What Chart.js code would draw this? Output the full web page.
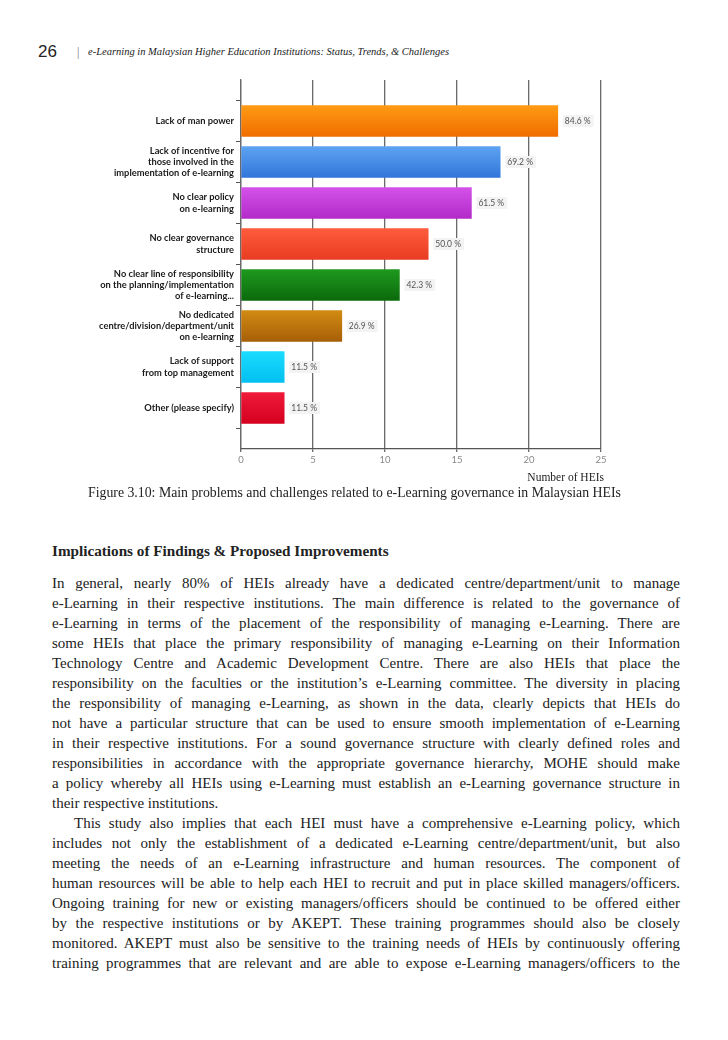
<!DOCTYPE html>
<html>
<head>
<meta charset="utf-8">
<script src="https://cdn.jsdelivr.net/npm/chart.js@4"></script>
<style>
  body { margin: 0; background: #fff; }
  #page { position: relative; width: 728px; height: 1040px; overflow: hidden; background: #fff; }
  .abs { position: absolute; white-space: nowrap; color: #222; }
  #chart { position: absolute; left: 0; top: 70px; }
  .serif { font-family: "Liberation Serif", "DejaVu Serif", serif; }
  #body { position: absolute; left: 52px; top: 573px; width: 628px; font-family: "Liberation Serif", serif; font-size: 15px; color: #222; }
  #body div { height: 20px; line-height: 20px; white-space: nowrap; text-align: justify; text-align-last: justify; }
  #body div.last { text-align-last: left; }
  #body div.indent { text-indent: 22px; }
</style>
</head>
<body>
<div id="page">
  <div class="abs" style="left:38px; top:42px; line-height:20px; font-family:'Liberation Sans',sans-serif; font-size:17px;">26</div>
  <div class="abs serif" style="left:77px; top:43px; line-height:18px; font-size:12px; color:#777;">|</div>
  <div class="abs serif" style="left:88px; top:44px; line-height:16px; font-size:10.5px; font-style:italic;">e-Learning in Malaysian Higher Education Institutions: Status, Trends, &amp; Challenges</div>

  <canvas id="chart" width="728" height="400"></canvas>

  <div class="abs serif" style="right:124px; top:469px; line-height:16px; font-size:11.5px;">Number of HEIs</div>
  <div class="abs serif" style="left:88px; top:484px; line-height:18px; font-size:13.8px;">Figure 3.10: Main problems and challenges related to e-Learning governance in Malaysian HEIs</div>
  <div class="abs serif" style="left:52px; top:541px; line-height:20px; font-size:15.2px; font-weight:bold;">Implications of Findings &amp; Proposed Improvements</div>

  <div id="body">
    <div>In general, nearly 80% of HEIs already have a dedicated centre/department/unit to manage</div>
    <div>e-Learning in their respective institutions. The main difference is related to the governance of</div>
    <div>e-Learning in terms of the placement of the responsibility of managing e-Learning. There are</div>
    <div>some HEIs that place the primary responsibility of managing e-Learning on their Information</div>
    <div>Technology Centre and Academic Development Centre. There are also HEIs that place the</div>
    <div>responsibility on the faculties or the institution’s e-Learning committee. The diversity in placing</div>
    <div>the responsibility of managing e-Learning, as shown in the data, clearly depicts that HEIs do</div>
    <div>not have a particular structure that can be used to ensure smooth implementation of e-Learning</div>
    <div>in their respective institutions. For a sound governance structure with clearly defined roles and</div>
    <div>responsibilities in accordance with the appropriate governance hierarchy, MOHE should make</div>
    <div>a policy whereby all HEIs using e-Learning must establish an e-Learning governance structure in</div>
    <div class="last">their respective institutions.</div>
    <div class="indent">This study also implies that each HEI must have a comprehensive e-Learning policy, which</div>
    <div>includes not only the establishment of a dedicated e-Learning centre/department/unit, but also</div>
    <div>meeting the needs of an e-Learning infrastructure and human resources. The component of</div>
    <div>human resources will be able to help each HEI to recruit and put in place skilled managers/officers.</div>
    <div>Ongoing training for new or existing managers/officers should be continued to be offered either</div>
    <div>by the respective institutions or by AKEPT. These training programmes should also be closely</div>
    <div>monitored. AKEPT must also be sensitive to the training needs of HEIs by continuously offering</div>
    <div>training programmes that are relevant and are able to expose e-Learning managers/officers to the</div>
  </div>
</div>

<script>
// chart data
const categories = [
    ['Lack of man power'],
    ['Lack of incentive for', 'those involved in the', 'implementation of e-learning'],
    ['No clear policy', 'on e-learning'],
    ['No clear governance', 'structure'],
    ['No clear line of responsibility', 'on the planning/implementation', 'of e-learning...'],
    ['No dedicated', 'centre/division/department/unit', 'on e-learning'],
    ['Lack of support', 'from top management'],
    ['Other (please specify)']
];
const heiCounts = [22, 18, 16, 13, 11, 7, 3, 3];
const percentLabels = ['84.6 %', '69.2 %', '61.5 %', '50.0 %', '42.3 %', '26.9 %', '11.5 %', '11.5 %'];
const xTickValues = [0, 5, 10, 15, 20, 25];

// bar colours (top / bottom of the gradient)
const barTop = ['#ff9c14', '#5ea4f2', '#d452ea', '#ff5c3c', '#1f9a1f', '#d28c12', '#1cdcff', '#f01a3a'];
const barBottom = ['#f06c00', '#3174da', '#b22ac8', '#e83c22', '#0b690b', '#a65e08', '#02bff0', '#d4001e'];

// empty slots at both ends keep half a band of room above and below
const labels = [''].concat(categories, ['']);
const values = [null].concat(heiCounts, [null]);

// fix the line breaks: shrink letter spacing where a line would overflow
document.querySelectorAll('#body div').forEach(line => {
    let ls = 0;
    while (line.scrollWidth > line.clientWidth && ls > -1) {
        ls -= 0.05;
        line.style.letterSpacing = ls + 'px';
    }
});

const valueLabels = {
    id: 'valueLabels',
    afterDatasetsDraw(chart) {
        const ctx = chart.ctx;
        const meta = chart.getDatasetMeta(0);
        ctx.save();
        ctx.font = '8.5px Lato, sans-serif';
        ctx.textBaseline = 'middle';
        meta.data.forEach((bar, idx) => {
            const text = percentLabels[idx - 1];
            if (!text) return;
            const w = ctx.measureText(text).width;
            const x = bar.x + 5;
            ctx.fillStyle = '#f3f3f3';
            ctx.fillRect(x, bar.y - 6, w + 5, 12);
            ctx.fillStyle = '#555';
            ctx.fillText(text, x + 2, bar.y);
        });
        ctx.restore();
    }
};

function barFill(context) {
    const i = context.dataIndex - 1;
    const chart = context.chart;
    if (i < 0 || i >= barTop.length) return '#000';
    if (!chart.chartArea) return barTop[i];
    const y = chart.scales.y.getPixelForValue(context.dataIndex);
    const g = chart.ctx.createLinearGradient(0, y - 16, 0, y + 16);
    g.addColorStop(0, barTop[i]);
    g.addColorStop(1, barBottom[i]);
    return g;
}

new Chart(document.getElementById('chart'), {
    type: 'bar',
    data: {
        labels: labels,
        datasets: [{
            data: values,
            backgroundColor: barFill,
            borderWidth: 0,
            barThickness: 31
        }]
    },
    options: {
        indexAxis: 'y',
        responsive: false,
        animation: false,
        layout: { padding: { top: 10, right: 127, left: 0, bottom: 0 } },
        plugins: {
            legend: { display: false },
            tooltip: { enabled: false }
        },
        scales: {
            x: {
                type: 'linear',
                min: 0,
                max: 25,
                afterBuildTicks: scale => { scale.ticks = xTickValues.map(v => ({ value: v })); },
                afterFit: scale => { scale.height = 21; },
                ticks: { color: '#888', font: { family: 'Lato, sans-serif', size: 9.5 }, padding: 2 },
                grid: { color: '#6a6a6a', lineWidth: 1.3, tickLength: 3, tickColor: '#6a6a6a' },
                border: { color: '#555', width: 1.3 }
            },
            y: {
                type: 'category',
                offset: false,
                afterFit: scale => { scale.width = 241; },
                ticks: {
                    color: '#1a1a1a',
                    font: { family: 'Lato, sans-serif', size: 9.3, weight: 'bold', lineHeight: 1.2 },
                    padding: 2,
                    autoSkip: false
                },
                grid: { drawOnChartArea: false, tickLength: 5, color: '#555', lineWidth: 1 },
                border: { color: '#6a6a6a', width: 1.3 }
            }
        }
    },
    plugins: [valueLabels]
});
</script>
</body>
</html>
